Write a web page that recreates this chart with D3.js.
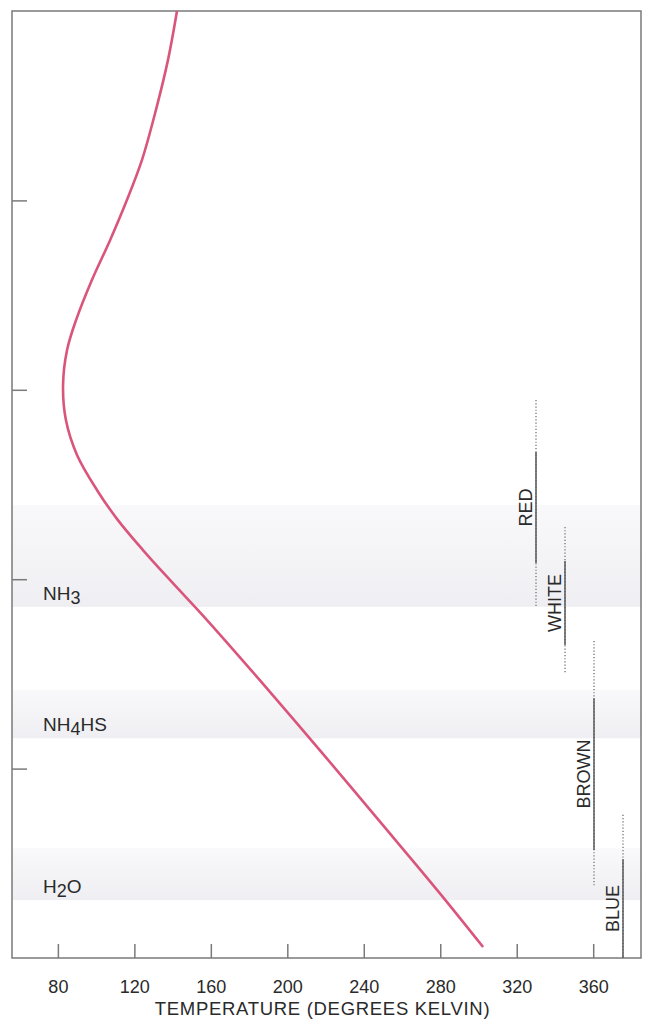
<!DOCTYPE html>
<html><head><meta charset="utf-8">
<script src="https://cdn.jsdelivr.net/npm/d3@7"></script>
<style>
html,body{margin:0;padding:0;background:#fff;}
svg{display:block;font-family:"Liberation Sans",Arial,sans-serif;}
</style></head><body>
<svg id="chart" width="645" height="1019"></svg>
<script>
// Temperature profile of the atmosphere: altitude (km) against temperature (K)
const profileAltitude = [250, 237.1, 223.9, 210.7, 200.1, 189.5, 179.0, 168.4, 160.5, 151.3, 142.0, 132.8, 123.5, 115.6, 107.7, 99.8, 89.2, 73.4, 54.1, 36.4, 17.2, 2.9];
const profileTemperature = [142.3, 137.6, 131.3, 124.0, 116.1, 107.3, 97.8, 89.5, 84.8, 82.7, 84.2, 90.0, 100.5, 111.4, 124.5, 138.6, 158.0, 185.5, 218.3, 247.8, 279.6, 302.4];

// Condensation cloud layers (altitude range, km)
const cloudLayers = ["NH3", "NH4HS", "H2O"];
const cloudTop = [119.6, 70.8, 29];
const cloudBase = [92.7, 58, 15.3];

// Visible cloud colours: haze (dotted) and main deck (solid) altitude ranges, km
const colorNames = ["RED", "WHITE", "BROWN", "BLUE"];
const colorHazeTop = [147.3, 113.8, 83.7, 37.8];
const colorSolidTop = [133.6, 104.8, 68.6, 26.1];
const colorSolidBase = [104.3, 82.6, 28.5, 0];
const colorHazeBase = [92.4, 75.2, 19, 0];

const temperatureTicks = [80, 120, 160, 200, 240, 280, 320, 360];
const altitudeTicks = [50, 100, 150, 200];

const svg = d3.select("#chart");
const frameLeft = 12, frameRight = 641, frameTop = 11, frameBottom = 958;

const x = d3.scaleLinear().domain([56, 385]).range([frameLeft, frameRight]);
const y = d3.scaleLinear().domain([0, 250]).range([frameBottom, frameTop]);
const colX = d3.scalePoint().domain(colorNames).range([536, 623]);

const frameColor = "#7a7a7a";
const textColor = "#2a2a2a";

// band shading
const defs = svg.append("defs");
const grad = defs.append("linearGradient").attr("id", "band").attr("x1", 0).attr("y1", 0).attr("x2", 0).attr("y2", 1);
grad.append("stop").attr("offset", "0%").attr("stop-color", "#f9f9fb");
grad.append("stop").attr("offset", "100%").attr("stop-color", "#efeff3");

const layers = cloudLayers.map((name, i) => ({name, top: cloudTop[i], base: cloudBase[i]}));
svg.append("g").selectAll("rect").data(layers).join("rect")
  .attr("x", frameLeft).attr("width", frameRight - frameLeft)
  .attr("y", d => y(d.top)).attr("height", d => y(d.base) - y(d.top))
  .attr("fill", "url(#band)");

// layer labels with subscript digits
const labels = svg.append("g").selectAll("text").data(layers).join("text")
  .attr("x", frameLeft + 31).attr("y", d => y(d.base) - 7)
  .attr("font-size", 19).attr("fill", textColor);
labels.each(function(d) {
  const t = d3.select(this);
  const parts = d.name.match(/\d+|\D+/g);
  let shift = 0;
  parts.forEach(p => {
    if (/\d/.test(p)) {
      t.append("tspan").attr("dy", 4 - shift).attr("font-size", 18).text(p);
      shift = 4;
    } else {
      t.append("tspan").attr("dy", -shift).text(p);
      shift = 0;
    }
  });
});

// frame
svg.append("rect").attr("x", frameLeft).attr("y", frameTop).attr("width", frameRight - frameLeft).attr("height", frameBottom - frameTop)
  .attr("fill", "none").attr("stroke", frameColor).attr("stroke-width", 1.5);

// bottom axis (ticks inward)
const xAxis = d3.axisBottom(x).tickValues(temperatureTicks).tickSize(-14).tickPadding(22);
const gx = svg.append("g").attr("transform", `translate(0,${frameBottom})`).call(xAxis);
gx.select(".domain").remove();
gx.selectAll(".tick line").attr("stroke", frameColor).attr("stroke-width", 1.5);
gx.selectAll(".tick text").attr("font-size", 18).attr("fill", textColor).attr("font-family", "Liberation Sans, Arial, sans-serif");

// left axis (unlabelled ticks inward)
const yAxis = d3.axisLeft(y).tickValues(altitudeTicks).tickSize(-15).tickFormat("");
const gy = svg.append("g").attr("transform", `translate(${frameLeft},0)`).call(yAxis);
gy.select(".domain").remove();
gy.selectAll(".tick line").attr("stroke", frameColor).attr("stroke-width", 1.5);

svg.append("text").attr("x", (frameLeft + frameRight) / 2 - 4).attr("y", 1014.5)
  .attr("text-anchor", "middle").attr("font-size", 18.5).attr("letter-spacing", 0.7).attr("fill", textColor)
  .text("TEMPERATURE (DEGREES KELVIN)");

// temperature curve
const profile = profileAltitude.map((a, i) => ({a, t: profileTemperature[i]})).sort((p, q) => p.a - q.a);
svg.append("path").datum(profile)
  .attr("d", d3.line().x(d => x(d.t)).y(d => y(d.a)).curve(d3.curveCatmullRom.alpha(0.5)))
  .attr("fill", "none").attr("stroke", "#d9557c").attr("stroke-width", 2.6);

// cloud colour bars
const bars = colorNames.map((name, i) => ({name, hTop: colorHazeTop[i], sTop: colorSolidTop[i], sBase: colorSolidBase[i], hBase: colorHazeBase[i]}));
const bg = svg.append("g");
bg.selectAll("line.haze").data(bars).join("line").attr("class", "haze")
  .attr("x1", d => colX(d.name)).attr("x2", d => colX(d.name))
  .attr("y1", d => y(d.hTop)).attr("y2", d => y(d.hBase))
  .attr("stroke", "#8a8a8a").attr("stroke-width", 1.6).attr("stroke-dasharray", "1.2,2");
bg.selectAll("line.solid").data(bars).join("line").attr("class", "solid")
  .attr("x1", d => colX(d.name)).attr("x2", d => colX(d.name))
  .attr("y1", d => y(d.sTop)).attr("y2", d => y(d.sBase))
  .attr("stroke", "#5a5a5a").attr("stroke-width", 1.5);
bg.selectAll("text").data(bars).join("text")
  .attr("transform", d => `translate(${colX(d.name) - 4},${(y(d.sTop) + y(d.sBase)) / 2}) rotate(-90)`)
  .attr("text-anchor", "middle").attr("font-size", 18).attr("fill", textColor)
  .text(d => d.name);
</script>
</body></html>
